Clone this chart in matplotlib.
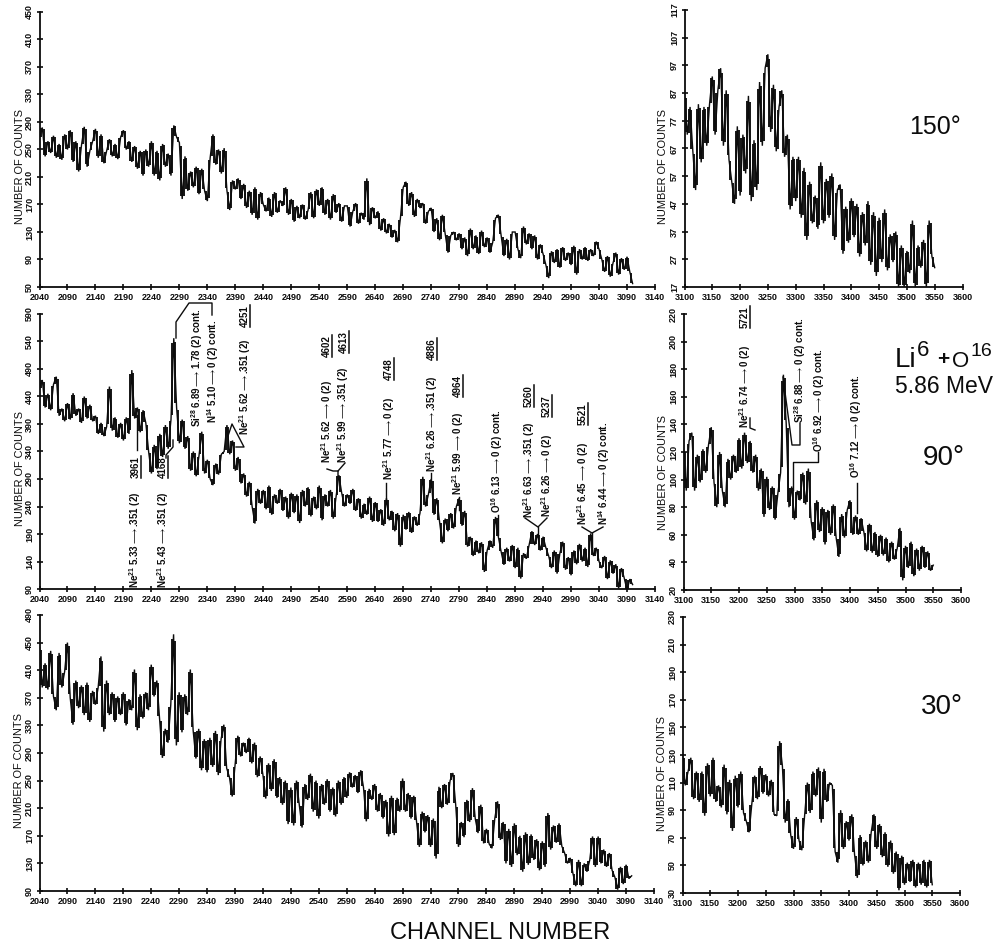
import numpy as np
import matplotlib
matplotlib.use("Agg")
import matplotlib.pyplot as plt

plt.rcParams['font.family'] = ['Liberation Sans', 'DejaVu Sans']
plt.rcParams['mathtext.default'] = 'regular'

W, H = 998, 947

# ---------- data: counts read per 5 channels ----------
left_channels = np.arange(2040, 3101, 5)
right_channels = np.arange(3100, 3551, 5)

counts_150_left = [
 268,282,240,262,245,270,238,258,235,272,
 250,278,232,262,218,256,283,225,248,262,
 280,238,272,230,248,265,240,258,236,268,
 278,250,262,232,255,222,248,212,250,225,
 262,212,248,205,258,225,244,212,285,268,
 260,178,240,190,218,195,225,185,222,190,
 175,238,272,228,250,215,252,190,162,205,
 192,208,178,200,165,190,155,195,148,188,
 170,160,180,152,188,158,176,168,195,155,
 178,145,168,150,170,148,162,188,150,192,
 168,195,155,178,148,185,158,172,145,168,
 168,138,160,172,142,158,148,208,140,166,
 150,160,132,150,128,142,122,133,115,150,
 195,203,168,188,152,178,165,172,142,160,
 165,130,150,118,155,128,100,125,130,118,
 128,105,122,95,135,105,125,98,132,108,
 122,100,115,150,155,125,95,120,90,130,
 130,105,92,138,112,128,105,125,90,112,
 98,82,63,102,85,105,78,108,88,100,
 82,110,68,105,90,108,88,105,95,116,
 105,90,72,95,65,85,100,68,92,75,
 94,72,55]

counts_90_left = [
 455,470,420,445,415,462,476,405,418,395,
 428,398,446,405,418,392,440,400,425,395,
 405,372,392,368,385,458,378,402,365,392,
 360,402,372,488,400,420,375,415,392,340,
 300,352,308,372,330,388,345,398,546,420,
 355,398,345,368,305,340,295,332,376,300,
 325,290,279,318,298,335,340,388,335,360,
 305,330,282,300,258,285,240,209,272,245,
 270,235,278,225,262,245,272,232,258,218,
 265,228,262,210,270,240,275,222,258,235,
 278,215,262,240,270,218,258,297,265,240,
 262,245,272,232,255,218,245,225,258,212,
 248,212,235,205,255,215,232,195,228,167,
 225,198,230,192,222,205,228,294,240,262,
 290,225,255,212,173,218,195,228,200,240,
 255,205,232,167,185,150,178,155,175,121,
 160,178,165,221,185,158,134,165,140,170,
 128,165,109,155,145,170,195,170,190,160,
 185,165,150,128,160,118,155,176,125,148,
 115,160,135,172,140,165,130,191,150,165,
 140,128,150,108,142,118,135,91,128,110,
 88,108,98]

counts_30_left = [
 443,385,420,382,438,372,352,435,385,408,
 450,370,331,395,355,388,345,392,335,380,
 360,385,430,321,395,345,378,335,372,345,
 378,330,368,352,411,323,375,340,378,352,
 418,372,395,340,283,325,305,360,462,301,
 378,320,375,345,411,323,282,325,265,310,
 262,312,270,322,258,310,331,268,255,227,
 272,315,285,305,290,312,275,305,255,285,
 258,224,275,235,281,225,255,215,250,187,
 240,185,250,215,182,245,222,260,205,250,
 195,245,215,252,205,240,198,250,215,255,
 225,262,240,258,232,265,240,191,238,222,
 245,205,232,195,222,169,228,171,225,205,
 253,205,232,195,228,190,154,205,175,200,
 154,195,137,241,210,245,215,250,261,215,
 154,190,168,222,190,239,195,174,215,159,
 180,158,152,195,220,164,190,130,180,125,
 188,142,170,118,175,128,172,135,165,120,
 162,125,203,150,185,160,188,155,145,130,
 138,115,97,135,97,130,118,135,169,125,
 169,130,150,125,145,120,110,92,125,100,
 128,108,112]

counts_150_right = [
 86,72,82,66,52,83,62,82,68,83,
 93,72,88,96,68,88,63,55,47,75,
 50,72,58,86,48,70,52,91,68,96,
 101,73,90,66,82,88,64,72,45,64,
 48,64,42,60,34,55,40,50,38,62,
 40,56,42,58,34,52,54,29,46,33,
 49,35,47,28,44,32,48,25,44,21,
 42,26,45,23,36,26,37,17,32,17,
 30,22,41,17,32,24,34,17,41,28,
 24]

counts_90_right = [
 122,92,128,134,92,118,98,122,105,125,
 138,98,80,120,92,80,115,100,118,105,
 130,108,134,112,128,105,118,92,108,73,
 102,78,95,71,90,105,176,141,80,95,
 71,92,85,105,82,108,70,56,85,62,
 80,53,78,60,82,58,44,75,58,78,
 85,60,74,60,72,62,48,68,47,62,
 44,60,45,58,40,55,42,50,65,27,
 52,36,55,30,50,34,52,36,48,34,
 38]

counts_30_right = [
 129,108,118,128,98,118,96,118,86,124,
 100,128,96,108,92,123,87,112,75,115,
 92,118,88,82,74,95,115,98,122,102,
 116,100,112,87,86,140,122,81,98,72,
 62,85,68,61,86,110,88,118,100,121,
 81,120,96,110,108,60,52,90,62,82,
 68,87,58,41,72,50,68,52,74,87,
 62,80,56,74,49,68,44,60,32,57,
 36,52,38,54,34,52,36,54,34,54,
 36]

left_xticks = list(range(2040, 3141, 50))
right_xticks = list(range(3100, 3601, 50))
yticks_150_left = list(range(50, 451, 40))
yticks_90_left = list(range(90, 591, 50))
yticks_30_left = list(range(90, 491, 40))
yticks_150_right = list(range(17, 118, 10))
yticks_90_right = list(range(20, 221, 20))
yticks_30_right = list(range(30, 231, 20))

INK = '#0c0c0c'
fig = plt.figure(figsize=(W / 100, H / 100), dpi=100, facecolor='white')


def panel(x0, x1, ytop, ybot, xs, ys, xticks, yticks):
    ax = fig.add_axes([x0 / W, 1 - ybot / H, (x1 - x0) / W, (ybot - ytop) / H])
    ys = np.asarray(ys, dtype=float)
    # comb of strokes between neighbouring readings: the dense noise of the trace
    xm = (xs[:-1] + xs[1:]) / 2
    ym = (ys[:-1] + ys[1:]) / 2
    half = 0.44 * np.abs(np.diff(ys))
    ax.vlines(xm, ym - half, ym + half, color=INK, lw=1.35)
    ax.plot(xs, ys, color=INK, lw=1.0, solid_joinstyle='miter')
    ax.set_xlim(xticks[0], xticks[-1])
    ax.set_ylim(yticks[0], yticks[-1])
    ax.set_xticks(xticks)
    ax.set_yticks(yticks)
    ax.set_xticklabels([str(t) for t in xticks], fontsize=6.5, fontweight='bold')
    ax.set_yticklabels([str(t) for t in yticks], fontsize=6.5, fontweight='bold',
                       rotation=90, va='center')
    ax.tick_params(direction='inout', length=5, width=1.2, color=INK, pad=1.5,
                   labelcolor=INK)
    for s in ('top', 'right'):
        ax.spines[s].set_visible(False)
    for s in ('left', 'bottom'):
        ax.spines[s].set_linewidth(1.3)
        ax.spines[s].set_color(INK)
    ax.patch.set_alpha(0)
    return ax


panel(39.5, 655, 12, 287, left_channels, counts_150_left, left_xticks, yticks_150_left)
panel(39.5, 655, 314, 589, left_channels, counts_90_left, left_xticks, yticks_90_left)
panel(39.5, 654, 615, 891, left_channels, counts_30_left, left_xticks, yticks_30_left)
panel(684.5, 962.5, 10, 287, right_channels, counts_150_right, right_xticks, yticks_150_right)
panel(683.5, 961, 314, 590, right_channels, counts_90_right, right_xticks, yticks_90_right)
panel(682.5, 960, 617, 893, right_channels, counts_30_right, right_xticks, yticks_30_right)

# ---------- overlay in pixel coordinates for labels and leaders ----------
ov = fig.add_axes([0, 0, 1, 1], zorder=10)
ov.set_xlim(0, W)
ov.set_ylim(H, 0)
ov.axis('off')
ov.patch.set_alpha(0)

for x, y in [(20, 166), (20, 468), (19, 770), (663, 166), (663, 472), (662, 773)]:
    ov.text(x, y, 'NUMBER OF COUNTS', rotation=90, ha='center', va='center',
            fontsize=7.9, color=INK)

ov.text(500, 933, 'CHANNEL NUMBER', ha='center', va='center', fontsize=17, color=INK)
ov.text(935, 127, '150°', ha='center', va='center', fontsize=18, color=INK)
ov.text(944, 458, '90°', ha='center', va='center', fontsize=20, color=INK)
ov.text(942, 707, '30°', ha='center', va='center', fontsize=20, color=INK)
ov.text(895, 367, 'Li', ha='left', va='baseline', fontsize=20, color=INK)
ov.text(917, 356, '6', ha='left', va='baseline', fontsize=16, color=INK)
ov.text(937, 365, '+', ha='left', va='baseline', fontsize=15, color=INK, fontweight='bold')
ov.text(952, 367, 'O', ha='left', va='baseline', fontsize=16, color=INK)
ov.text(971, 356, '16', ha='left', va='baseline', fontsize=14, color=INK)
ov.text(895, 393, '5.86 MeV', ha='left', va='baseline', fontsize=16.5, color=INK)

ARROW = r'$\longrightarrow$'
transition_labels = [
    f'Ne$^{{21}}$ 5.33{ARROW}.351 (2)', f'Ne$^{{21}}$ 5.43{ARROW}.351 (2)',
    f'Si$^{{28}}$ 6.89{ARROW}1.78 (2) cont.', f'N$^{{14}}$ 5.10{ARROW}0 (2) cont.',
    f'Ne$^{{21}}$ 5.62{ARROW}.351 (2)', f'Ne$^{{21}}$ 5.62{ARROW}0 (2)',
    f'Ne$^{{21}}$ 5.99{ARROW}.351 (2)', f'Ne$^{{21}}$ 5.77{ARROW}0 (2)',
    f'Ne$^{{21}}$ 6.26{ARROW}.351 (2)', f'Ne$^{{21}}$ 5.99{ARROW}0 (2)',
    f'O$^{{16}}$ 6.13{ARROW}0 (2) cont.', f'Ne$^{{21}}$ 6.63{ARROW}.351 (2)',
    f'Ne$^{{21}}$ 6.26{ARROW}0 (2)', f'Ne$^{{21}}$ 6.45{ARROW}0 (2)',
    f'N$^{{14}}$ 6.44{ARROW}0 (2) cont.', f'Ne$^{{21}}$ 6.74{ARROW}0 (2)',
    f'Si$^{{28}}$ 6.88{ARROW}0 (2) cont.', f'O$^{{16}}$ 6.92{ARROW}0 (2) cont.',
    f'O$^{{16}}$ 7.12{ARROW}0 (2) cont.',
]
label_x = [135, 163, 197, 213, 245, 327, 343, 389, 432, 458, 497, 529, 547, 583, 604, 745, 800, 819, 856]
label_bottom = [588, 588, 427, 423, 435, 463, 463, 480, 472, 495, 513, 518, 517, 525, 525, 428, 423, 452, 478]
for lab, x, y in zip(transition_labels, label_x, label_bottom):
    ov.text(x, y, lab, rotation=90, ha='center', va='bottom', fontsize=7,
            fontweight='bold', color=INK)

energy_labels = ['3961', '4168', '4251', '4602', '4613', '4748', '4886', '4964', '5260', '5237', '5521', '5721']
energy_x = [136, 163, 245, 327, 344, 389, 432, 458, 529, 547, 583, 745]
energy_bottom = [478, 478, 327, 357, 353, 380, 360, 397, 407, 417, 425, 328]
for lab, x, y in zip(energy_labels, energy_x, energy_bottom):
    ov.text(x, y, lab, rotation=90, ha='center', va='bottom', fontsize=7,
            fontweight='bold', color=INK)
    ov.plot([x + 5.5, x + 5.5], [y, y - 22], color=INK, lw=1.1)

leaders = [
    [(137, 450), (137, 415)],
    [(166, 458), (166, 455), (173, 447), (173, 440)],
    [(176, 338), (176, 322), (189, 303), (212, 303), (212, 315)],
    [(228, 436), (232, 424), (244, 447), (236, 447)],
    [(338, 478), (338, 471), (345, 463)],
    [(338, 471), (333, 471), (327, 469)],
    [(386, 483), (386, 500)],
    [(431, 473), (431, 487)],
    [(459, 497), (459, 510)],
    [(498, 515), (498, 535)],
    [(525, 518), (538, 527), (547, 518)],
    [(538, 527), (538, 537)],
    [(582, 527), (592, 533), (603, 527)],
    [(592, 533), (592, 547)],
    [(750, 418), (750, 428), (755, 430)],
    [(783, 377), (792, 445), (800, 445), (800, 423)],
    [(793, 490), (793, 462), (818, 462), (818, 452)],
    [(857, 483), (857, 513)],
]
for pts in leaders:
    ov.plot([p[0] for p in pts], [p[1] for p in pts], color=INK, lw=1.0)

fig.savefig('out.png', dpi=100, facecolor='white')
